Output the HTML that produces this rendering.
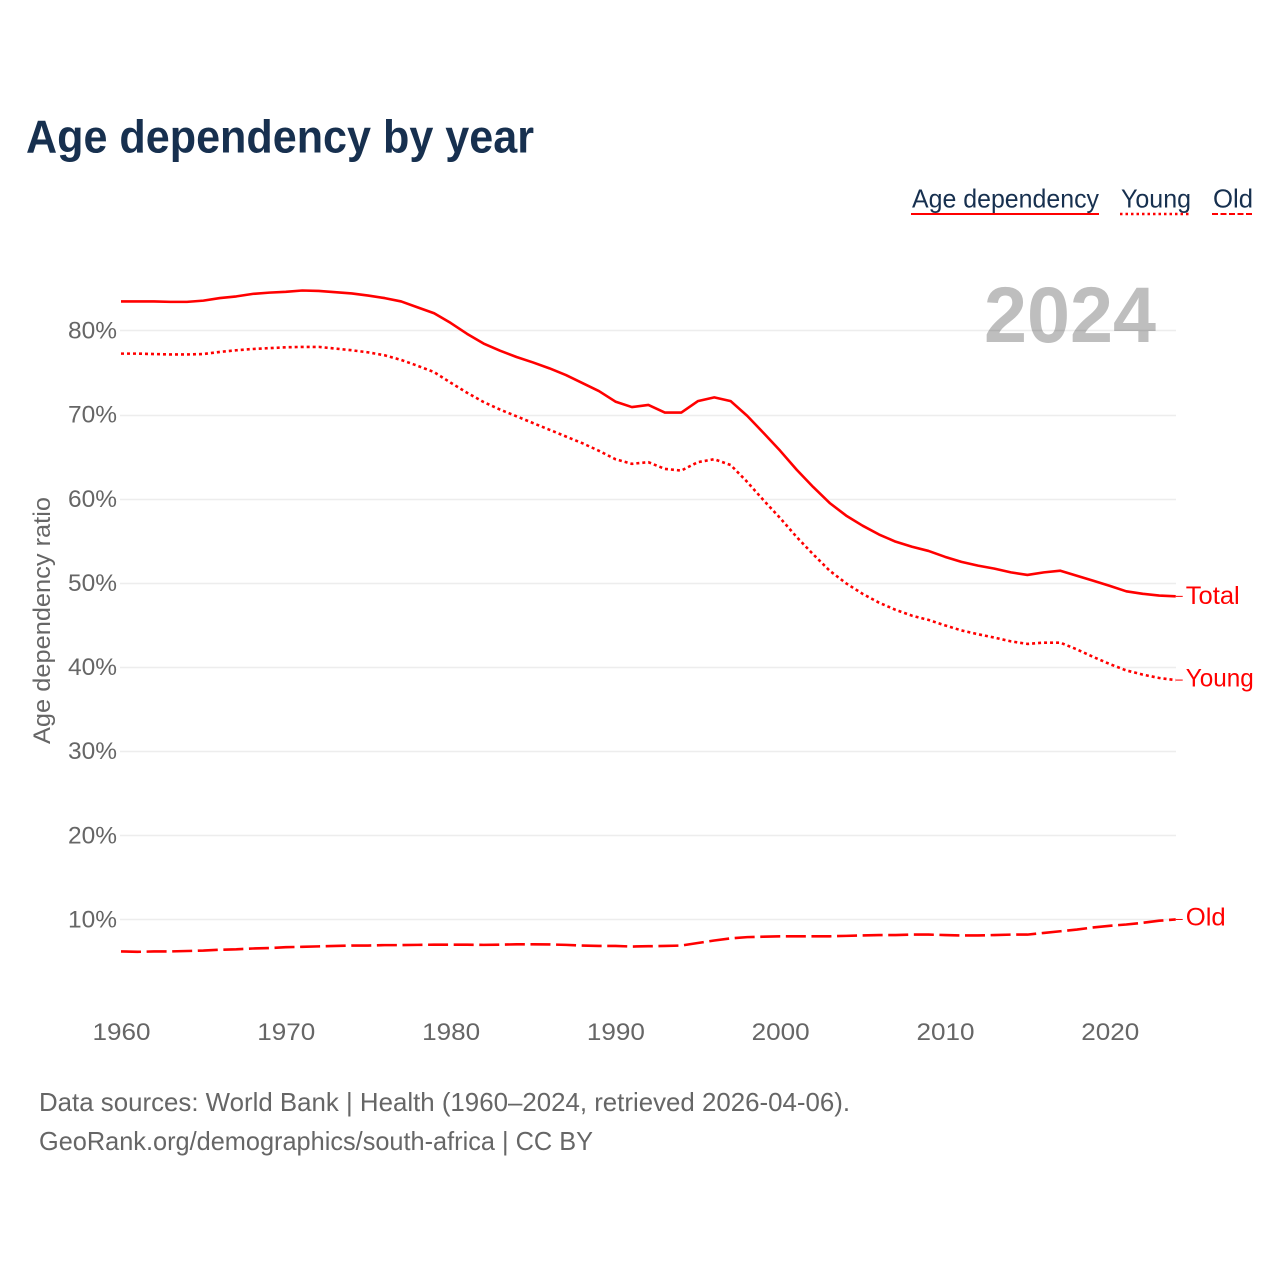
<!DOCTYPE html>
<html>
<head>
<meta charset="utf-8">
<title>Age dependency by year</title>
<style>
html,body{margin:0;padding:0;background:#fff;width:1280px;height:1280px;overflow:hidden}
svg{display:block}
text{font-family:"Liberation Sans",sans-serif}
</style>
</head>
<body>
<svg id="chart" width="1280" height="1280" viewBox="0 0 1280 1280" xmlns="http://www.w3.org/2000/svg">
  <rect width="1280" height="1280" fill="#fff"/>
  <text x="26" y="152.5" font-size="46" font-weight="700" fill="#17304f" textLength="508" lengthAdjust="spacingAndGlyphs">Age dependency by year</text>

  <g>
    <g>
      <text x="912" y="207.5" font-size="26" fill="#17304f" textLength="187" lengthAdjust="spacingAndGlyphs">Age dependency</text>
      <line x1="911" y1="214" x2="1099" y2="214" stroke="#f00" stroke-width="2"/>
    </g>
    <g>
      <text x="1121" y="207.5" font-size="26" fill="#17304f" textLength="70" lengthAdjust="spacingAndGlyphs">Young</text>
      <line x1="1120" y1="214" x2="1190" y2="214" stroke="#f00" stroke-width="2.5" stroke-dasharray="2.5 3"/>
    </g>
    <g>
      <text x="1213" y="207.5" font-size="26" fill="#17304f" textLength="40" lengthAdjust="spacingAndGlyphs">Old</text>
      <line x1="1212" y1="214" x2="1254" y2="214" stroke="#f00" stroke-width="2" stroke-dasharray="6 2.5"/>
    </g>
  </g>

  <text x="1156" y="342" font-size="79" font-weight="700" fill="#bebebe" text-anchor="end" textLength="172" lengthAdjust="spacingAndGlyphs">2024</text>

  <g id="grid"></g>
  <g id="yaxis"></g>
  <g id="xaxis"></g>
  <text transform="translate(50,620.5) rotate(-90)" font-size="24" fill="#666" text-anchor="middle" textLength="247" lengthAdjust="spacingAndGlyphs">Age dependency ratio</text>
  <g id="series"></g>

  <text x="39" y="1111" font-size="26" fill="#666" textLength="811" lengthAdjust="spacingAndGlyphs">Data sources: World Bank | Health (1960–2024, retrieved 2026-04-06).</text>
  <text x="39" y="1150" font-size="26" fill="#666" textLength="554" lengthAdjust="spacingAndGlyphs">GeoRank.org/demographics/south-africa | CC BY</text>
</svg>
<script>
const startYear = 1960;
const yTickValues = [10, 20, 30, 40, 50, 60, 70, 80];
const xTickValues = [1960, 1970, 1980, 1990, 2000, 2010, 2020];
const totalValues = [
  83.45,83.45,83.45,83.4,83.4,83.55,83.85,84.05,84.35,84.5,
  84.6,84.75,84.7,84.55,84.4,84.15,83.85,83.45,82.75,82.05,
  80.9,79.6,78.45,77.6,76.85,76.2,75.5,74.7,73.75,72.8,
  71.55,70.9,71.15,70.25,70.25,71.6,72.05,71.6,69.85,67.8,
  65.7,63.45,61.4,59.5,58,56.8,55.75,54.9,54.3,53.8,
  53.1,52.5,52.05,51.7,51.25,50.95,51.25,51.45,50.85,50.25,
  49.65,49,48.7,48.5,48.4
];
const youngValues = [
  77.25,77.25,77.2,77.15,77.15,77.2,77.45,77.65,77.8,77.9,
  78,78.05,78.05,77.85,77.65,77.4,77.05,76.5,75.8,75.05,
  73.8,72.6,71.5,70.6,69.8,69,68.2,67.4,66.6,65.7,
  64.7,64.15,64.35,63.55,63.35,64.35,64.7,64,62,59.8,
  57.7,55.45,53.4,51.45,49.95,48.7,47.65,46.8,46.1,45.6,
  44.95,44.35,43.9,43.5,43.05,42.75,42.9,42.9,42.1,41.2,
  40.35,39.6,39.1,38.7,38.45
];
const oldValues = [
  6.2,6.15,6.2,6.2,6.25,6.3,6.4,6.45,6.55,6.6,
  6.7,6.75,6.8,6.85,6.9,6.9,6.95,6.95,6.98,7,
  7,7,6.98,7,7.05,7.05,7.03,6.98,6.9,6.85,
  6.85,6.78,6.82,6.85,6.9,7.2,7.5,7.75,7.9,7.95,
  8,8,8,8,8.05,8.1,8.15,8.15,8.2,8.2,
  8.15,8.1,8.1,8.15,8.2,8.2,8.4,8.6,8.8,9.05,
  9.25,9.4,9.6,9.85,10
];

const NS = 'http://www.w3.org/2000/svg';
function xScale(year) { return 121 + (year - 1960) * 16.48; }
function yScale(v) { return 1003.6 - v * 8.414; }
function make(tag, attrs, parent, text) {
  const el = document.createElementNS(NS, tag);
  for (const k in attrs) el.setAttribute(k, attrs[k]);
  if (text !== undefined) el.textContent = text;
  parent.appendChild(el);
  return el;
}

const gridG = document.getElementById('grid');
const yG = document.getElementById('yaxis');
const xG = document.getElementById('xaxis');
const seriesG = document.getElementById('series');

yTickValues.forEach(function (v) {
  const py = Math.round(yScale(v)) + 0.5;
  const line = make('line', { x1: 120, x2: 1176, y1: py, y2: py, stroke: '#000', 'stroke-opacity': 0.07, 'stroke-width': 1.4 }, gridG);
  
  
  const label = make('text', { x: 117, y: yScale(v) + 8, 'font-size': 24, fill: '#666', 'text-anchor': 'end', textLength: 49, lengthAdjust: 'spacingAndGlyphs' }, yG, v + '%');
  
  
});

xTickValues.forEach(function (yr) {
  const label = make('text', { x: xScale(yr) + 0.5, y: 1040, 'font-size': 24, fill: '#666', 'text-anchor': 'middle', textLength: 58, lengthAdjust: 'spacingAndGlyphs' }, xG, String(yr));
  
  
});

function drawSeries(key, values, dash, labelText, labelWidth, labelOffset) {
  const pts = values.map(function (v, i) { return xScale(startYear + i).toFixed(2) + ',' + yScale(v).toFixed(2); }).join(' ');
  const attrs = { points: pts, fill: 'none', stroke: '#f00', 'stroke-width': 2.6, 'stroke-linejoin': 'round' };
  if (dash) attrs['stroke-dasharray'] = dash;
  const line = make('polyline', attrs, seriesG);
  
  
  const lastX = xScale(startYear + values.length - 1);
  const lastY = yScale(values[values.length - 1]);
  const leader = make('line', { x1: lastX, x2: lastX + 7, y1: lastY, y2: lastY, stroke: '#f00', 'stroke-width': 1 }, seriesG);
  
  
  const label = make('text', { x: lastX + 10, y: lastY + labelOffset, 'font-size': 25, fill: '#f00', textLength: labelWidth, lengthAdjust: 'spacingAndGlyphs' }, seriesG, labelText);
  
  
}
drawSeries('total', totalValues, null, 'Total', 54, 7.5);
drawSeries('young', youngValues, '3 3', 'Young', 68, 6.5);
drawSeries('old', oldValues, '20 5.6', 'Old', 40, 6);
</script>
</body>
</html>
